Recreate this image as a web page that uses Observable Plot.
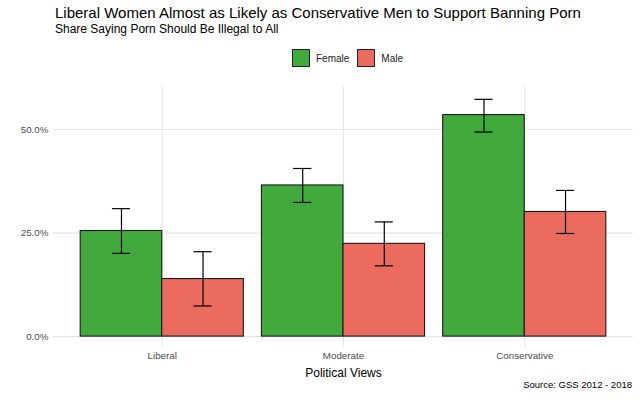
<!DOCTYPE html>
<html>
<head>
<meta charset="utf-8">
<script src="https://cdn.jsdelivr.net/npm/d3@7"></script>
<script src="https://cdn.jsdelivr.net/npm/@observablehq/plot@0.6"></script>
<style>
  html, body { margin: 0; padding: 0; background: #fff; }
  body { width: 640px; height: 400px; position: relative; overflow: hidden; font-family: "Liberation Sans", Arial, sans-serif; }
  #title { position: absolute; left: 55px; top: 4px; font-size: 15px; color: #000; white-space: nowrap; }
  #subtitle { position: absolute; left: 55px; top: 22px; font-size: 12px; color: #000; white-space: nowrap; }
  #legend { position: absolute; top: 49px; left: 292px; display: flex; align-items: center; font-size: 10px; color: #222; }
  .sw { width: 18px; height: 18px; border: 1px solid #222; box-sizing: border-box; display: inline-block; }
  .lab { margin-left: 6px; margin-right: 8px; }
  #chart { position: absolute; left: 0; top: 80px; }
  #caption { position: absolute; right: 8px; top: 379px; font-size: 9.5px; color: #000; white-space: nowrap; }
</style>
</head>
<body>
<div id="title">Liberal Women Almost as Likely as Conservative Men to Support Banning Porn</div>
<div id="subtitle">Share Saying Porn Should Be Illegal to All</div>
<div id="legend"></div>
<div id="chart"></div>
<div id="caption">Source: GSS 2012 - 2018</div>
<script>
// Data
const views = ["Liberal", "Moderate", "Conservative"];
const sexes = ["Female", "Male"];
const colors = ["#42a93d", "#eb6b5e"];
const female = [0.255, 0.365, 0.535];
const male = [0.139, 0.224, 0.301];
const femaleLow = [0.201, 0.324, 0.494];
const femaleHigh = [0.309, 0.406, 0.573];
const maleLow = [0.074, 0.171, 0.249];
const maleHigh = [0.205, 0.277, 0.353];
const yTicks = [0, 0.25, 0.5];

// Build table (ggplot-style dodge: position index ± half of 0.9 width)
const rows = [];
views.forEach((v, i) => {
  const pos = i + 1;
  rows.push({view: v, sex: "Female", pos, x1: pos - 0.45, x2: pos, value: female[i], lo: femaleLow[i], hi: femaleHigh[i]});
  rows.push({view: v, sex: "Male", pos, x1: pos, x2: pos + 0.45, value: male[i], lo: maleLow[i], hi: maleHigh[i]});
});
rows.forEach(d => { d.mid = (d.x1 + d.x2) / 2; d.c1 = d.mid - 0.05; d.c2 = d.mid + 0.05; });

// Legend
const legend = document.getElementById("legend");
sexes.forEach((s, i) => {
  const sw = document.createElement("span");
  sw.className = "sw"; sw.style.background = colors[i];
  const lab = document.createElement("span");
  lab.className = "lab"; lab.textContent = s;
  legend.appendChild(sw); legend.appendChild(lab);
});

const chart = Plot.plot({
  width: 640,
  height: 300,
  marginTop: 6,
  marginBottom: 32,
  marginLeft: 53,
  marginRight: 7,
  style: {fontFamily: "Liberation Sans, Arial, sans-serif", background: "#fff"},
  x: {domain: [0.4, 3.6], label: null},
  y: {domain: [-0.02875, 0.604], label: null},
  color: {domain: sexes, range: colors},
  marks: [
    Plot.ruleY(yTicks, {stroke: "#e6e6e6", strokeWidth: 1.1}),
    Plot.ruleX(views.map((v, i) => i + 1), {stroke: "#e6e6e6", strokeWidth: 1.1}),
    Plot.rectY(rows, {x1: "x1", x2: "x2", y1: 0, y2: "value", fill: "sex", stroke: "#1a1a1a", strokeWidth: 1.1}),
    Plot.ruleX(rows, {x: "mid", y1: "lo", y2: "hi", stroke: "#000", strokeWidth: 1.2}),
    Plot.ruleY(rows, {y: "lo", x1: "c1", x2: "c2", stroke: "#000", strokeWidth: 1.2}),
    Plot.ruleY(rows, {y: "hi", x1: "c1", x2: "c2", stroke: "#000", strokeWidth: 1.2}),
    Plot.axisY(yTicks, {tickSize: 0, tickPadding: 5, tickFormat: d => (d * 100).toFixed(1) + "%", fontSize: 9.8, fill: "#4d4d4d", label: null}),
    Plot.axisX(views.map((v, i) => i + 1), {tickSize: 0, tickPadding: 4, tickFormat: d => views[d - 1], fontSize: 9.8, fill: "#4d4d4d", label: null}),
    Plot.text(["Political Views"], {frameAnchor: "bottom", dy: 28, fontSize: 12, fill: "#000"})
  ]
});
document.getElementById("chart").appendChild(chart);
</script>
</body>
</html>
